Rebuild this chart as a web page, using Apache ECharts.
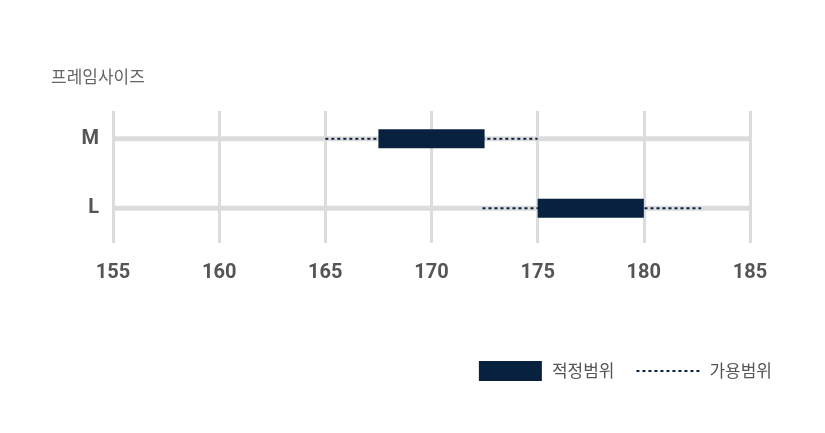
<!DOCTYPE html>
<html>
<head>
<meta charset="utf-8">
<script src="https://cdn.jsdelivr.net/npm/echarts@6/dist/echarts.min.js"></script>
<style>
  html, body { margin: 0; padding: 0; background: #fff; }
  #chart { width: 825px; height: 433px; }
</style>
</head>
<body>
<div id="chart"></div>
<script>
// 사이즈 (y축 카테고리)
var sizes = ['M', 'L'];
// 키 범위 (cm)
var heightMin = 155, heightMax = 185, heightStep = 5;
// 적정범위
var fitFrom = [167.5, 175];
var fitTo = [172.5, 180];
// 가용범위
var usableFrom = [165, 172.4];
var usableTo = [175, 182.7];

var navy = '#08213f';
var fontKr = '"Noto Sans CJK KR", "Noto Sans", sans-serif';

var series = [];
sizes.forEach(function (s, i) {
	// 회색 트랙
	series.push({
		type: 'line', silent: true, symbol: 'none', z: 1,
		lineStyle: { color: '#dcdcdc', width: 5, cap: 'butt' },
		data: [[heightMin, i], [heightMax, i]]
	});
});
sizes.forEach(function (s, i) {
	series.push({
		name: '가용범위', type: 'line', symbol: 'none', z: 2,
		lineStyle: { color: navy, width: 2, type: [3, 3], cap: 'butt' },
		itemStyle: { color: navy },
		data: [[usableFrom[i], i], [usableTo[i], i]]
	});
});
sizes.forEach(function (s, i) {
	series.push({
		name: '적정범위', type: 'line', symbol: 'none', z: 3,
		lineStyle: { color: navy, width: 19, cap: 'butt' },
		itemStyle: { color: navy },
		data: [[fitFrom[i], i], [fitTo[i], i]]
	});
});

var chart = echarts.init(document.getElementById('chart'));
chart.setOption({
	animation: false,
	title: {
		text: '프레임사이즈',
		left: 46, top: 63,
		textStyle: { fontFamily: fontKr, fontSize: 17, fontWeight: 'normal', color: '#666' }
	},
	legend: {
		right: 48, top: 356,
		itemWidth: 63, itemHeight: 20, itemGap: 21,
		textStyle: { fontFamily: fontKr, fontSize: 17, color: '#555', padding: [0, 0, 0, 5] },
		data: [
			{ name: '적정범위', icon: 'rect' },
			{ name: '가용범위', itemStyle: { opacity: 0 } }
		]
	},
	grid: { left: 113, right: 75, top: 111, bottom: 190 },
	xAxis: {
		type: 'value',
		min: heightMin, max: heightMax, interval: heightStep,
		axisLine: { show: false },
		axisTick: { show: false },
		axisLabel: {
			margin: 20,
			fontFamily: 'Roboto, sans-serif', fontSize: 20, fontWeight: 'bold', color: '#555'
		},
		splitLine: { show: true, lineStyle: { color: '#dcdcdc', width: 3 } }
	},
	yAxis: {
		type: 'value',
		inverse: true,
		min: -0.4, max: 1.5,
		axisLine: { show: false },
		axisTick: { show: false },
		splitLine: { show: false },
		axisLabel: {
			customValues: [0, 1],
			margin: 14,
			fontFamily: 'Roboto, sans-serif', fontSize: 20, fontWeight: 'bold', color: '#555',
			formatter: function (v) {
				return sizes[v] !== undefined && v === Math.round(v) ? sizes[v] : '';
			}
		}
	},
	series: series
});
</script>
</body>
</html>
